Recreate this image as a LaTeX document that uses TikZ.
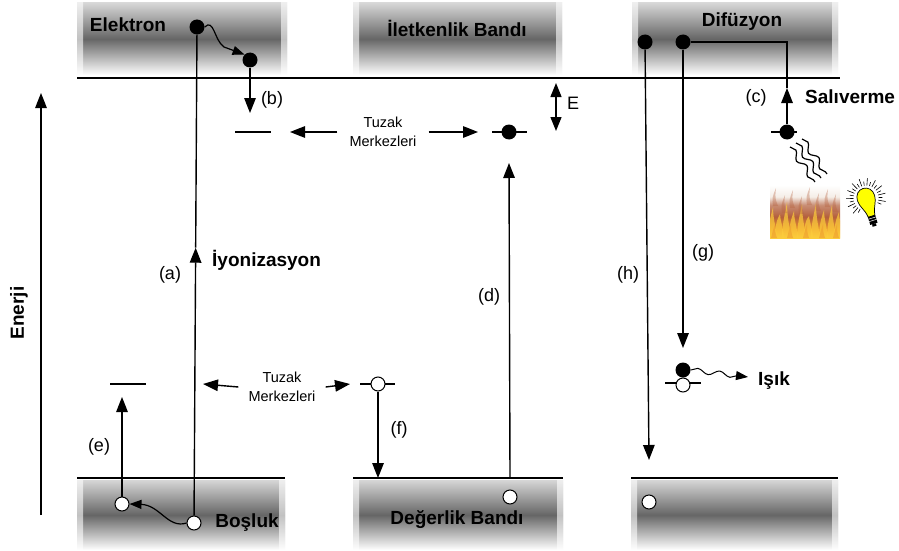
\documentclass[tikz,border=0pt]{standalone}
\usepackage{fontspec}
\setmainfont{Liberation Sans}
\usetikzlibrary{arrows.meta,decorations.pathmorphing,calc}

% colours of the fire picture
\definecolor{fireY}{RGB}{252,205,60}
\definecolor{fireO}{RGB}{236,150,45}
\definecolor{fireB}{RGB}{180,95,60}
\definecolor{fireR}{RGB}{200,140,115}
\definecolor{fireW}{RGB}{245,238,232}
\definecolor{bulbY}{RGB}{255,255,0}

\pgfdeclareverticalshading{fire}{100bp}{%
  color(0bp)=(fireY); color(25bp)=(fireY); color(33bp)=(fireO);
  color(45bp)=(fireB); color(56bp)=(fireR); color(64bp)=(fireW);
  color(75bp)=(white); color(100bp)=(white)}

\begin{document}
\begin{tikzpicture}[x=1pt,y=-1pt,
  wire/.style={line width=1.4pt},
  arr/.style={wire,-{Triangle[length=15pt,width=11.5pt]}},
  elec/.style={circle,fill=black,inner sep=0pt,minimum size=15pt},
  hole/.style={circle,draw=black,line width=1pt,fill=white,inner sep=0pt,minimum size=14pt},
  band/.style={top color=black!16,bottom color=white,middle color=black!60,draw=none},
  lbl/.style={font=\fontsize{18}{21}\selectfont,inner sep=0pt},
  blbl/.style={font=\fontsize{19}{22}\selectfont\bfseries,inner sep=0pt},
  trapnote/.style={font=\fontsize{14.5}{19}\selectfont,align=center,inner sep=0pt},
  lvl/.style={line width=1.4pt},
  wave/.style={line width=1.2pt,decorate,decoration={snake,amplitude=3pt,segment length=19pt}},
]
\useasboundingbox (0,0) rectangle (899,551);

% energy bands
\path[band] (77,3) rectangle (287,75);
\path[band] (353,3) rectangle (562,75);
\path[band] (632,3) rectangle (838,75);
\path[band] (77,480) rectangle (285,550);
\path[band] (353,480) rectangle (563,550);
\path[band] (631,480) rectangle (838,550);
% soft side edges of the bands
\foreach \xa/\xb/\ya/\yb in {77/287/3/75,353/562/3/75,632/838/3/75,77/285/480/550,353/563/480/550,631/838/480/550}{
  \path[left color=white,right color=white!0,fill opacity=.6] (\xa,\ya) rectangle (\xa+6,\yb);
  \path[left color=white!0,right color=white,fill opacity=.6] (\xb-6,\ya) rectangle (\xb,\yb);
}

% band edges
\draw[wire] (77,78) -- (840,78);
\draw[wire] (77,478) -- (285,478);
\draw[wire] (353,478) -- (563,478);
\draw[wire] (631,478) -- (838,478);

% band titles
\node[blbl] (tElek) at (128,25) {Elektron};
\node[blbl] (tIlet) at (457,28) {İletkenlik Bandı};
\node[blbl] (tDif) at (742,22) {Difüzyon};
\node[blbl] (tBos) at (247,523) {Boşluk};
\node[blbl] (tDeg) at (457,520) {Değerlik Bandı};

% energy axis
\coordinate (axB) at (41,515);
\coordinate (axT) at (41,93);
\draw[arr] (axB) -- (axT);
\node[blbl,rotate=90] (tEn) at (19,313) {Enerji};

% carriers
\node[elec] (e1) at (197,27) {};
\node[elec] (e2) at (250,60) {};
\node[elec] (e3) at (645,42) {};
\node[elec] (e4) at (683,42) {};
\node[hole] (h1) at (122,504) {};
\node[hole] (h2) at (194,523) {};
\node[hole] (h3) at (510,497) {};
\node[hole] (h5) at (649,502) {};

% (a) ionisation
\coordinate (aTip) at ($(h2)!0.555!(e1)$);
\draw[arr] (h2) -- (aTip);
\draw[wire] (aTip) -- (e1);
\node[lbl] (la) at (170,275) {(a)};
\node[blbl,anchor=west] (tIyon) at (212,260) {İyonizasyon};

% electron thermalising in the band
\draw[line width=1.2pt,-{Triangle[length=12pt,width=9pt]}]
  (e1.east) .. controls (214,18) and (214,40) .. (224,47) -- (e2.north west);

% (b) trapping of the electron
\coordinate (tb) at (253,132);
\draw[lvl] (235,132) -- (271,132);
\coordinate (bTip) at (250,113);
\draw[arr] (e2) -- (bTip);
\node[lbl] (lb) at (272,100) {(b)};

% upper trap centres
\node[trapnote] (tz1) at (383,132) {Tuzak\\Merkezleri};
\coordinate (tz1L) at (290,132);
\coordinate (tz1R) at (478,132);
\draw[arr] ([xshift=-12pt]tz1.west) -- (tz1L);
\draw[arr] ([xshift=12pt]tz1.east) -- (tz1R);
\draw[lvl] (492,132) -- (527,132);
\node[elec] (te) at (509,132) {};

% (d) direct excitation into the trap
\coordinate (dB) at (510,478);
\coordinate (dTip) at (509,163);
\draw[arr] (dB) -- (dTip);
\node[lbl] (ld) at (489,297) {(d)};

% trap depth E
\coordinate (E1) at (556,83);
\coordinate (E2) at (556,131);
\draw[wire,{Triangle[length=14pt,width=11pt]}-{Triangle[length=14pt,width=11pt]}] (E1) -- (E2);
\node[lbl] (lE) at (573,103) {E};

% (c) release from the trap
\draw[lvl] (771,132) -- (797,132);
\node[elec] (tc) at (787,132) {};
\coordinate (cTip) at (787,88);
\coordinate (cCorner) at (787,42);
\draw[arr] (tc) -- (cTip);
\draw[wire] (cTip) -- (cCorner) -- (e4);
\node[lbl] (lc) at (756,98) {(c)};
\node[blbl,anchor=west] (tSal) at (805,97) {Salıverme};

% heat waves
\draw[wave] (790,147) -- (815,182);
\draw[wave] (796,143) -- (821,178);
\draw[wave] (802,139) -- (827,174);

% fire
\path[shading=fire] (770,185) rectangle (840,238);
\begin{scope}
  \clip (770,185) rectangle (840,238);
  \foreach \x/\h in {772/207,779/214,786/202,793/211,801/204,808/216,815/203,823/210,831/205,838/212}{
    \fill[fireY,opacity=.7] (\x-4,238) .. controls (\x-4,226) and (\x-2,219) .. (\x+1,\h)
      .. controls (\x+1,219) and (\x+4,227) .. (\x+5,238) -- cycle;
  }
  \foreach \x/\h in {775/188,784/195,792/190,801/196,809/187,818/193,827/189,835/194}{
    \fill[fireB,opacity=.35] (\x-2,\h+18) .. controls (\x-3,\h+10) .. (\x+1,\h)
      .. controls (\x,\h+10) .. (\x+3,\h+18) -- cycle;
  }
  \foreach \x in {774,790,806,822,836}{
    \fill[fireO,opacity=.5] (\x-3,238) .. controls (\x-1,230) .. (\x+1,224)
      .. controls (\x+1,231) .. (\x+3,238) -- cycle;
  }
\end{scope}

% light bulb
\begin{scope}[shift={(866,198)},rotate=17]
  \foreach \a [count=\i] in {135,147,...,405}{
    \pgfmathsetmacro{\rr}{mod(\i,2)==0 ? 20 : 16.5}
    \draw[line width=.6pt] (\a:12.5) -- (\a:\rr);
  }
  \draw[fill=bulbY,line width=.7pt]
    (-3.5,19) .. controls (-4.5,10) and (-9,7) .. (-9,0)
    .. controls (-9,-6) and (-5,-10) .. (0,-10)
    .. controls (5,-10) and (9,-6) .. (9,0)
    .. controls (9,7) and (4.5,10) .. (3.5,19) -- cycle;
  \fill[black] (-3.8,19) rectangle (3.8,27);
  \foreach \yy in {21,23.5} \draw[white,line width=.5pt] (-3.8,\yy) -- (3.8,\yy);
  \fill[black] (-2,27) rectangle (2,29.5);
\end{scope}

% (g) diffusion and recombination
\coordinate (gTip) at (683,348);
\draw[arr] (e4) -- (gTip);
\node[lbl] (lg) at (703,253) {(g)};
\draw[lvl] (665,383) -- (701,383);
\node[hole] (rh) at (683,385) {};
\node[elec] (re) at (683,370) {};
\coordinate (lightTip) at (748,377);
\draw[line width=1pt,-{Triangle[length=12pt,width=9pt]},decorate,
  decoration={snake,amplitude=2.5pt,segment length=22pt,post length=10pt}]
  (re.east) -- (lightTip);
\node[blbl,anchor=west] (tIsik) at (758,381) {Işık};

% (h) direct drop to the valence band
\coordinate (hTip) at (649,460);
\draw[arr] (e3) -- (hTip);
\node[lbl] (lh) at (628,275) {(h)};

% lower trap centres
\draw[lvl] (110,384) -- (146,384);
\coordinate (eTip) at (122,397);
\draw[arr] (h1) -- (eTip);
\node[lbl] (le) at (99,447) {(e)};
\draw[line width=1.2pt,-{Triangle[length=12pt,width=9pt]}]
  (h2.west) .. controls (168,529) and (160,505) .. (h1.east);

\node[trapnote] (tz2) at (282,387) {Tuzak\\Merkezleri};
\coordinate (tz2L) at (203,384);
\coordinate (tz2R) at (350,384);
\draw[arr] ([xshift=-10pt]tz2.west) -- (tz2L);
\draw[arr] ([xshift=10pt]tz2.east) -- (tz2R);
\draw[lvl] (360,384) -- (395,384);
\node[hole] (h4) at (378,384) {};

% (f) hole release to the valence band
\coordinate (fTip) at (378,478);
\draw[arr] (h4) -- (fTip);
\node[lbl] (lf) at (399,430) {(f)};

\end{tikzpicture}
\end{document}
